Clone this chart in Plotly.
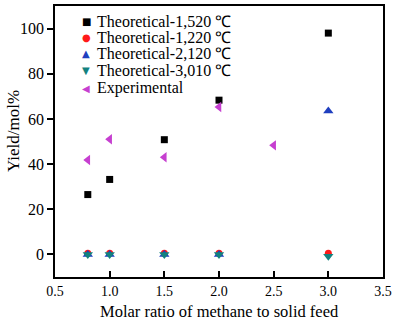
import plotly.graph_objects as go

x_theo = [0.8, 1.0, 1.5, 2.0, 3.0]
y_1520 = [26.5, 33.2, 50.8, 68.3, 98.0]
y_1220 = [0.5, 0.5, 0.5, 0.5, 0.5]
y_2120 = [0.0, 0.0, 0.0, 0.0, 63.5]
y_3010 = [0.0, 0.0, 0.0, 0.0, -0.8]
x_exp = [0.8, 1.0, 1.5, 2.0, 2.5]
y_exp = [41.8, 51.0, 43.0, 65.3, 48.3]

names = ["Theoretical-1,520 ℃", "Theoretical-1,220 ℃", "Theoretical-2,120 ℃",
         "Theoretical-3,010 ℃", "Experimental"]
colors = ["black", "#ff1a1a", "#1f3fbf", "#13827f", "#c63fd0"]
symbols = ["square", "circle", "triangle-up", "triangle-down", "triangle-left"]
glyphs = ["■", "●", "▲", "▼", "◀"]
sizes = [7, 7, 9, 9, 9]

series_x = [x_theo, x_theo, x_theo, x_theo, x_exp]
series_y = [y_1520, y_1220, y_2120, y_3010, y_exp]

fig = go.Figure()
for i in range(5):
    fig.add_trace(go.Scatter(x=series_x[i], y=series_y[i], mode="markers", name=names[i],
                             showlegend=False, hoverinfo="skip",
                             marker=dict(symbol=symbols[i], color=colors[i], size=sizes[i])))

font = "Times New Roman, Liberation Serif, serif"

# plot area in pixels: x 55..383, y 6..277
def px(xp):
    return (xp - 55) / 328.0

def py(yp):
    return (277 - yp) / 271.0

legend_rows = [22, 37.5, 53.5, 71, 88]
annotations = []
for i, yrow in enumerate(legend_rows):
    annotations.append(dict(xref="paper", yref="paper", x=px(86), y=py(yrow),
                            text=glyphs[i], showarrow=False, xanchor="center", yanchor="middle",
                            font=dict(family="DejaVu Sans", size=10, color=colors[i])))
    annotations.append(dict(xref="paper", yref="paper", x=px(95), y=py(yrow),
                            text=names[i], showarrow=False, xanchor="left", yanchor="middle",
                            font=dict(family=font, size=16, color="black")))
annotations.append(dict(xref="paper", yref="paper", x=px(219), y=py(311),
                        text="Molar ratio of methane to solid feed", showarrow=False,
                        xanchor="center", yanchor="middle",
                        font=dict(family=font, size=16.5, color="black")))
annotations.append(dict(xref="paper", yref="paper", x=px(13), y=py(131),
                        text="Yield/mol%", showarrow=False, textangle=-90,
                        xanchor="center", yanchor="middle",
                        font=dict(family=font, size=17, color="black")))

fig.update_layout(
    width=395, height=323,
    margin=dict(l=55, r=12, t=6, b=46, autoexpand=False),
    paper_bgcolor="white", plot_bgcolor="white",
    font=dict(family=font, size=16, color="black"),
    showlegend=False,
    hovermode=False,
    annotations=annotations,
)
fig.update_xaxes(range=[0.5, 3.5], tickvals=[0.5, 1.0, 1.5, 2.0, 2.5, 3.0, 3.5],
                 ticktext=["0.5", "1.0", "1.5", "2.0", "2.5", "3.0", "3.5"],
                 tickfont=dict(size=14),
                 ticks="inside", ticklen=6, tickwidth=1.5, tickcolor="black",
                 ticklabeloverflow="allow", automargin=False,
                 showline=True, linecolor="black", linewidth=1.5, mirror=True,
                 showgrid=False, zeroline=False)
fig.update_yaxes(range=[-10, 110], tickvals=[0, 20, 40, 60, 80, 100],
                 tickfont=dict(size=16),
                 ticks="outside", ticklen=6, tickwidth=1.5, tickcolor="black",
                 automargin=False,
                 showline=True, linecolor="black", linewidth=1.5, mirror=True,
                 showgrid=False, zeroline=False)

fig.write_html("out.html", config={"displayModeBar": False},
               post_script="document.body.style.margin='0';")
